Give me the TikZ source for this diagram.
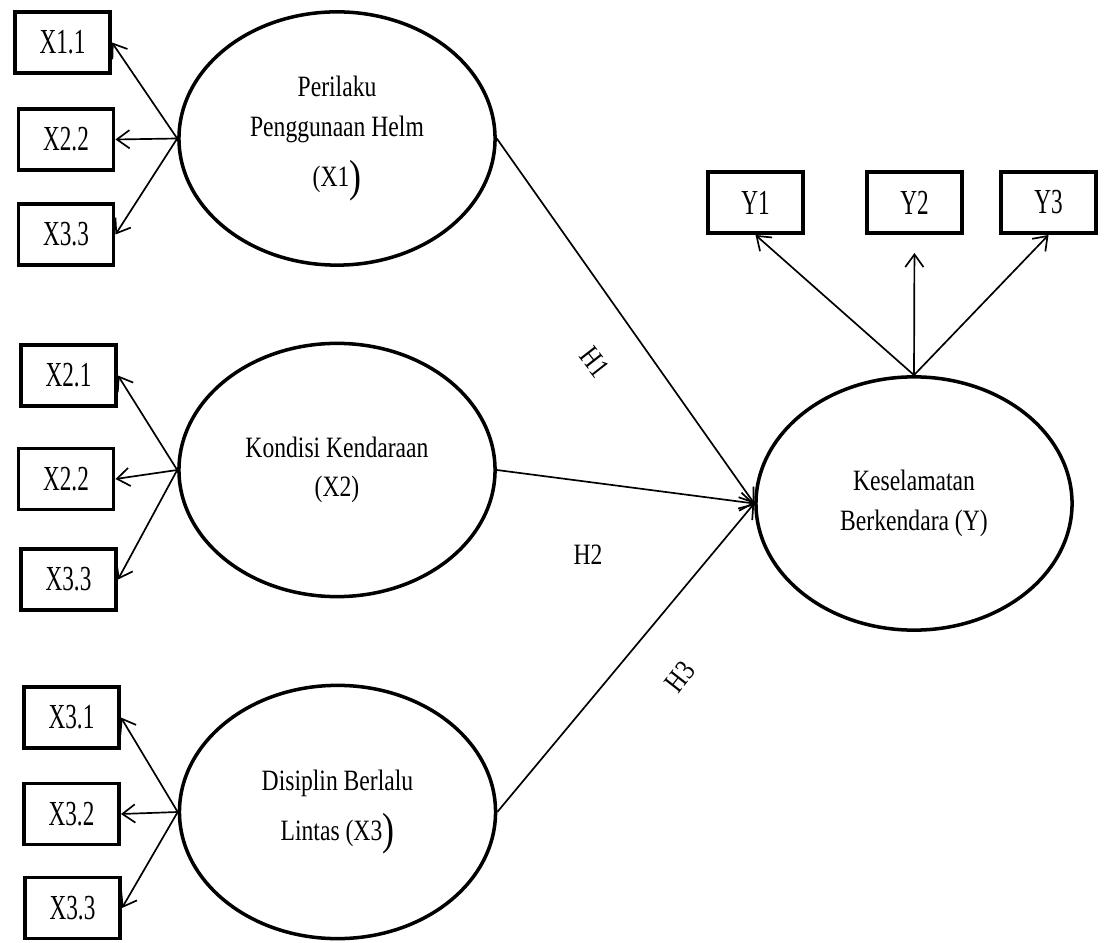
\documentclass[tikz,border=0pt]{standalone}
\usepackage{fontspec}
\setmainfont{Liberation Serif}[FakeStretch=0.8]
\newfontfamily\indfont{Liberation Serif}[FakeStretch=0.66]
\usetikzlibrary{arrows.meta,positioning,shapes.geometric}
\newcommand{\bigclose}{\raisebox{-3pt}{\fontsize{32}{32}\selectfont )}}

\begin{document}
\begin{tikzpicture}[x=0.025cm,y=0.025cm,
  latent/.style={ellipse,draw,line width=2.5pt,minimum width=7.9cm,minimum height=6.33cm,
    inner sep=0pt,align=center,font=\fontsize{21}{28}\selectfont},
  indicator/.style={rectangle,draw,line width=2.8pt,minimum width=2.375cm,minimum height=1.525cm,
    inner sep=0pt,font=\indfont\fontsize{25}{30}\selectfont},
  load/.style={-{Straight Barb[length=9pt,width=13pt]},line width=1.2pt},
  hyp/.style={font=\fontsize{21}{28}\selectfont}]
\useasboundingbox (0,0) rectangle (1109,942);
% Latent variables
\node[latent] (perilaku) at (337,803.5) {Perilaku\\Penggunaan Helm\\[8pt](X1\bigclose};
\node[latent] (kondisi) at (337,472) {Kondisi Kendaraan\\(X2)};
\node[latent] (disiplin) at (337.5,130) {Disiplin Berlalu\\[8pt]Lintas (X3\bigclose};
\node[latent] (selamat) at (914,438.5) {Keselamatan\\Berkendara (Y)};
% Indicators of X1
\node[indicator] (x11) at (62.5,899.5) {X1.1};
\node[indicator] (x12) at (66,802.5) {X2.2};
\node[indicator] (x13) at (66,707.5) {X3.3};
% Indicators of X2
\node[indicator] (x21) at (68.5,566.5) {X2.1};
\node[indicator] (x22) at (66,463) {X2.2};
\node[indicator] (x23) at (68.5,362.5) {X3.3};
% Indicators of X3
\node[indicator] (x31) at (71.5,224.5) {X3.1};
\node[indicator] (x32) at (71.5,128) {X3.2};
\node[indicator] (x33) at (72.5,34) {X3.3};
% Indicators of Y
\node[indicator] (y1) at (755.5,739.5) {Y1};
\node[indicator] (y2) at (914.5,739.5) {Y2};
\node[indicator] (y3) at (1048.5,739.5) {Y3};
% Loadings
\draw[load] (perilaku.west) -- (x11.east);
\draw[load] (perilaku.west) -- (x12.east);
\draw[load] (perilaku.west) -- (x13.east);
\draw[load] (kondisi.west) -- (x21.east);
\draw[load] (kondisi.west) -- (x22.east);
\draw[load] (kondisi.west) -- (x23.east);
\draw[load] (disiplin.west) -- (x31.east);
\draw[load] (disiplin.west) -- (x32.east);
\draw[load] (disiplin.west) -- (x33.east);
\draw[load] (selamat.north) -- (y1.south);
\draw[load,shorten >=0.45cm] (selamat.north) -- (y2.south);
\draw[load] (selamat.north) -- (y3.south);
% Structural paths
\draw[load] (perilaku.east) -- (selamat.west);
\draw[load] (kondisi.east) -- (selamat.west);
\draw[load] (disiplin.east) -- (selamat.west);
% Hypotheses
\node[hyp,rotate=-52] (h1) at (595,580) {H1};
\node[hyp] (h2) at (588,387) {H2};
\node[hyp,rotate=52] (h3) at (680,265) {H3};
\end{tikzpicture}
\end{document}
